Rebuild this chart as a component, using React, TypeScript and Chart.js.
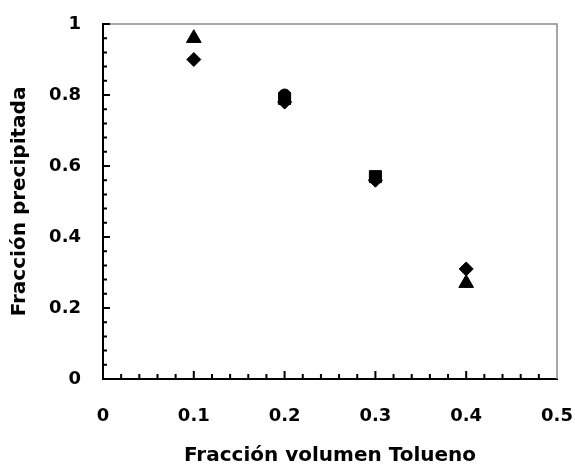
import React, { useEffect, useRef } from "react";
import { Chart, registerables } from "chart.js";

Chart.register(...registerables);

// ---- data ----
const xTickLabels = ["0", "0.1", "0.2", "0.3", "0.4", "0.5"];
const yTickLabels = ["0", "0.2", "0.4", "0.6", "0.8", "1"];

const diamondX = [0.1, 0.2, 0.3, 0.4];
const diamondY = [0.9, 0.78, 0.56, 0.31];

const squareX = [0.2, 0.3];
const squareY = [0.79, 0.57];

const triangleX = [0.1, 0.4];
const triangleY = [0.96, 0.27];

const circleX = [0.2];
const circleY = [0.8];

const xTitle = "Fracción volumen Tolueno";
const yTitle = "Fracción precipitada";

const FONT = "'DejaVu Sans', sans-serif";

const pts = (xs: number[], ys: number[]) => xs.map((x, i) => ({ x, y: ys[i] }));

const zeroPad = (s: any) => {
  s.paddingLeft = 0;
  s.paddingRight = 0;
  s.paddingTop = 0;
  s.paddingBottom = 0;
};

const frameTicks = {
  id: "frameTicks",
  afterDraw(chart: any) {
    const { ctx, chartArea, scales } = chart;
    const { left, right, top, bottom } = chartArea;
    const xs = scales.x;
    const ys = scales.y;
    ctx.save();
    ctx.strokeStyle = "#8a8a8a";
    ctx.lineWidth = 1.5;
    ctx.beginPath();
    ctx.moveTo(left, top);
    ctx.lineTo(right, top);
    ctx.lineTo(right, bottom);
    ctx.stroke();

    ctx.strokeStyle = "#000";
    ctx.lineWidth = 2;
    ctx.beginPath();
    for (let i = 1; i < 25; i++) {
      const px = xs.getPixelForValue(i * 0.02);
      const len = i % 5 === 0 ? 8 : 5;
      ctx.moveTo(px, bottom);
      ctx.lineTo(px, bottom - len);
    }
    for (let i = 1; i <= 25; i++) {
      const py = ys.getPixelForValue(i * 0.04);
      const len = i % 5 === 0 ? 7 : 4;
      ctx.moveTo(left, py);
      ctx.lineTo(left + len, py);
    }
    ctx.stroke();
    ctx.restore();
  },
};

export default function App() {
  const ref = useRef<HTMLCanvasElement | null>(null);

  useEffect(() => {
    if (!ref.current) return;
    const base = {
      backgroundColor: "#000",
      borderColor: "#000",
      borderWidth: 1,
      showLine: false,
    };
    const chart = new Chart(ref.current, {
      type: "scatter",
      data: {
        datasets: [
          { ...base, label: "rombo", data: pts(diamondX, diamondY), pointStyle: "rectRot", pointRadius: 7 },
          { ...base, label: "cuadrado", data: pts(squareX, squareY), pointStyle: "rect", pointRadius: 8.5 },
          { ...base, label: "triángulo", data: pts(triangleX, triangleY), pointStyle: "triangle", pointRadius: 8.5 },
          { ...base, label: "círculo", data: pts(circleX, circleY), pointStyle: "circle", pointRadius: 6 },
        ],
      },
      options: {
        responsive: false,
        animation: false,
        layout: { padding: { top: 24, right: 18, left: 0, bottom: 0 } },
        plugins: { legend: { display: false }, tooltip: { enabled: false } },
        scales: {
          x: {
            type: "linear",
            min: 0,
            max: 0.5,
            grid: { display: false, drawTicks: false },
            border: { display: true, color: "#000", width: 2 },
            ticks: {
              stepSize: 0.1,
              padding: 27,
              color: "#000",
              font: { family: FONT, size: 18, weight: "bold" },
              callback: (_v: any, i: number) => xTickLabels[i],
            },
            title: {
              display: true,
              text: xTitle,
              color: "#000",
              padding: { top: 0, bottom: 0 },
              font: { family: FONT, size: 20, weight: "bold" },
            },
            afterFit: (s: any) => {
              s.height = 89;
              zeroPad(s);
            },
          },
          y: {
            type: "linear",
            min: 0,
            max: 1,
            grid: { display: false, drawTicks: false },
            border: { display: true, color: "#000", width: 2 },
            ticks: {
              stepSize: 0.2,
              padding: 22,
              color: "#000",
              font: { family: FONT, size: 18, weight: "bold" },
              callback: (_v: any, i: number) => yTickLabels[i],
            },
            title: {
              display: true,
              text: yTitle,
              color: "#000",
              padding: { top: 8, bottom: 0 },
              font: { family: FONT, size: 20, weight: "bold" },
            },
            afterFit: (s: any) => {
              s.width = 103;
              zeroPad(s);
            },
          },
        },
      },
      plugins: [frameTicks],
    } as any);
    return () => chart.destroy();
  }, []);

  return (
    <div style={{ position: "fixed", left: 0, top: 0, width: 575, height: 468, background: "#fff" }}>
      <canvas ref={ref} width={575} height={468} style={{ display: "block" }} />
    </div>
  );
}
